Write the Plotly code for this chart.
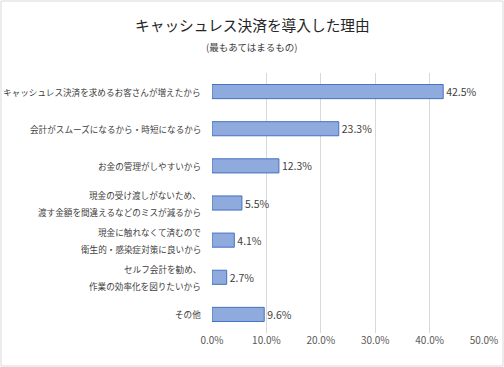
import plotly.graph_objects as go

categories = [
    "キャッシュレス決済を求めるお客さんが増えたから",
    "会計がスムーズになるから・時短になるから",
    "お金の管理がしやすいから",
    "現金の受け渡しがないため、<br>渡す金額を間違えるなどのミスが減るから",
    "現金に触れなくて済むので<br>衛生的・感染症対策に良いから",
    "セルフ会計を勧め、<br>作業の効率化を図りたいから",
    "その他",
]
values = [42.5, 23.3, 12.3, 5.5, 4.1, 2.7, 9.6]
tick_vals = [0, 10, 20, 30, 40, 50]
tick_text = ["0.0%", "10.0%", "20.0%", "30.0%", "40.0%", "50.0%"]
title = "キャッシュレス決済を導入した理由"
subtitle = "(最もあてはまるもの)"

W, H = 504, 367
ML, MR, MT, MB = 212, 20, 73, 34
pw, ph = W - ML - MR, H - MT - MB

def px_x(p):
    return (p - ML) / pw

def px_y(p):
    return (H - MB - p) / ph

FONT = "Noto Sans CJK JP"
LINE_H = 17

fig = go.Figure(go.Bar(
    y=categories,
    x=values,
    orientation="h",
    marker=dict(color="#8FAADC", line=dict(color="#4472C4", width=1)),
    text=[f"{v:.1f}%" for v in values],
    textposition="outside",
    constraintext="none",
    textfont=dict(family=FONT, size=10.5, color="#404040"),
    cliponaxis=False,
    hoverinfo="skip",
))

annotations = [
    dict(text=title, x=px_x(252), y=px_y(24), xref="paper", yref="paper",
         showarrow=False, xanchor="center", yanchor="middle",
         font=dict(family=FONT, size=14.7, color="#262626")),
    dict(text=subtitle, x=px_x(252), y=px_y(47), xref="paper", yref="paper",
         showarrow=False, xanchor="center", yanchor="middle",
         font=dict(family=FONT, size=9.5, color="#404040")),
]
for cat in categories:
    lines = cat.split("<br>")
    n = len(lines)
    for i, ln in enumerate(lines):
        annotations.append(dict(
            text=ln, x=px_x(203), y=cat, xref="paper", yref="y",
            showarrow=False, xanchor="right", yanchor="middle",
            yshift=((n - 1) / 2 - i) * LINE_H,
            font=dict(family=FONT, size=8.6, color="#404040"),
        ))

fig.update_layout(
    width=W, height=H,
    margin=dict(l=ML, r=MR, t=MT, b=MB),
    paper_bgcolor="white",
    plot_bgcolor="white",
    bargap=0.62,
    showlegend=False,
    font=dict(family=FONT, color="#404040"),
    xaxis=dict(
        range=[0, 50],
        tickvals=tick_vals,
        ticktext=tick_text,
        showgrid=True,
        gridcolor="#D9D9D9",
        gridwidth=1,
        zeroline=False,
        showline=False,
        tickfont=dict(family=FONT, size=10, color="#595959"),
        ticks="",
        automargin=False,
        fixedrange=True,
    ),
    yaxis=dict(
        autorange="reversed",
        showgrid=False,
        zeroline=False,
        showline=False,
        ticks="",
        showticklabels=False,
        automargin=False,
        fixedrange=True,
    ),
    annotations=annotations,
    shapes=[
        dict(type="rect", xref="paper", yref="paper",
             x0=px_x(1), x1=px_x(503), y0=px_y(366), y1=px_y(1),
             line=dict(color="#D9D9D9", width=1), layer="below"),
    ],
)

fig.write_html(
    "out.html",
    config={"displayModeBar": False},
    post_script="document.body.style.margin='0';document.body.style.overflow='hidden';",
)
